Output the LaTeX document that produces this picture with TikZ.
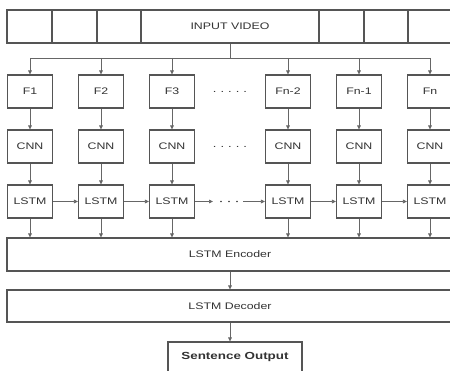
\documentclass[tikz,border=0pt]{standalone}
\usepackage{fontspec}
\newfontfamily\diagfont{Liberation Sans}[FakeStretch=1.3]
\usetikzlibrary{arrows.meta}
\definecolor{edge}{HTML}{555555}
\definecolor{wire}{HTML}{666666}
\definecolor{ink}{HTML}{333333}
\tikzset{
  cell/.style={draw=edge, line width=1.1pt, fill=white, inner sep=0pt,
               minimum height=33pt, text=ink, font=\diagfont\fontsize{9.5}{11}\selectfont},
  unit/.style={cell, minimum width=45pt},
  wide/.style={cell, minimum width=446pt},
  link/.style={draw=wire, line width=0.7pt, -{Triangle[length=4pt,width=3.6pt]}},
  plain/.style={draw=wire, line width=0.7pt},
  gapdots/.style={text=ink, font=\diagfont\fontsize{10}{11}\selectfont}
}
\begin{document}
\begin{tikzpicture}[x=1pt,y=-1pt]
\useasboundingbox (0,0) rectangle (450,371);
\clip (0,0) rectangle (450,371);

% input video strip
\node[cell, minimum width=45pt]  (v1) at (29.5,26.5) {};
\node[cell, minimum width=45pt]  (v2) at (74.5,26.5) {};
\node[cell, minimum width=44pt]  (v3) at (119,26.5) {};
\node[cell, minimum width=178pt] (vid) at (230,26.5) {INPUT VIDEO};
\node[cell, minimum width=45pt]  (v5) at (341.5,26.5) {};
\node[cell, minimum width=44pt]  (v6) at (386,26.5) {};
\node[cell, minimum width=45pt]  (v7) at (430.5,26.5) {};

% per-frame columns
\foreach \i/\cx/\lab in {1/30/F1, 2/101/F2, 3/172/F3, 4/288/Fn-2, 5/359/Fn-1, 6/430/Fn}{
  \node[unit] (f\i) at (\cx,91.5) {\lab};
  \node[unit] (c\i) at (\cx,146.5) {CNN};
  \node[unit] (l\i) at (\cx,201.5) {LSTM};
}
\node[gapdots] (fdots) at (230,92) {.\hspace{4pt}.\hspace{4pt}.\hspace{4pt}.\hspace{4pt}.};
\node[gapdots] (cdots) at (230,147) {.\hspace{4pt}.\hspace{4pt}.\hspace{4pt}.\hspace{4pt}.};

% encoder, decoder, output
\node[wide] (enc) at (230,254.5) {LSTM Encoder};
\node[wide, minimum height=32pt] (dec) at (230,306) {LSTM Decoder};
\node[cell, minimum width=134pt, text height=18pt, text depth=18pt,
      font=\diagfont\bfseries\fontsize{10.3}{12}\selectfont] (out) at (235,360) {Sentence Output};

% fan-out from the video to the frames
\coordinate (bus) at (230,58);
\draw[plain] (vid.south) -- (bus);
\draw[plain] (f1.north |- bus) -- (f6.north |- bus);
\foreach \i in {1,...,6}{
  \draw[link] (f\i.north |- bus) -- (f\i.north);
  \draw[link] (f\i) -- (c\i);
  \draw[link] (c\i) -- (l\i);
  \draw[link] (l\i.south) -- (l\i.south |- enc.north);
}

% recurrent links between LSTM cells
\draw[link] (l1) -- (l2);
\draw[link] (l2) -- (l3);
\draw[link] (l4) -- (l5);
\draw[link] (l5) -- (l6);
\coordinate (gapa) at (213,201.5);
\coordinate (gapb) at (243,201.5);
\draw[link] (l3.east) -- (gapa);
\draw[link] (gapb) -- (l4.west);
\foreach \dx in {221,229,237}
  \fill[ink] (\dx,201.5) circle (0.9pt);

\draw[link] (enc.south) -- (dec.north);
\draw[link] (dec.south) -- (dec.south |- out.north);
\end{tikzpicture}
\end{document}
